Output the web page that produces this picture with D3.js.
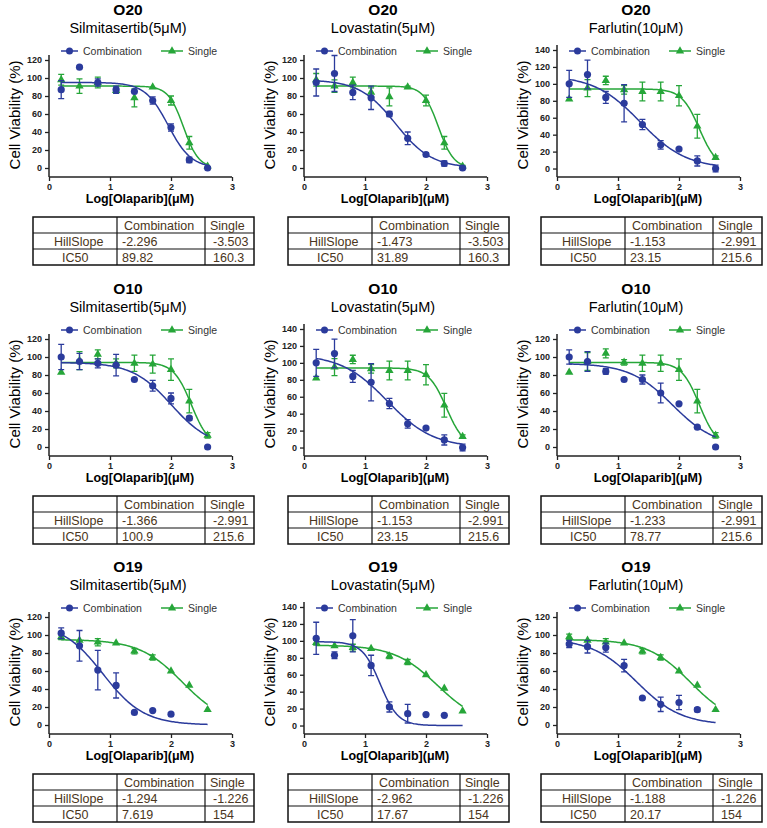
<!DOCTYPE html>
<html><head><meta charset="utf-8">
<script src="https://cdn.jsdelivr.net/npm/d3@7"></script>
<style>body{margin:0;background:#fff}text{font-family:"Liberation Sans",Arial,sans-serif}</style>
</head><body><svg id="c" width="767" height="828"></svg>
<script>
const doses=[0.2,0.5,0.8,1.1,1.4,1.7,2.0,2.3,2.6];
const cellLines=["O20","O20","O20","O10","O10","O10","O19","O19","O19"];
const drugs=["Silmitasertib(5μM)","Lovastatin(5μM)","Farlutin(10μM)","Silmitasertib(5μM)","Lovastatin(5μM)","Farlutin(10μM)","Silmitasertib(5μM)","Lovastatin(5μM)","Farlutin(10μM)"];
const yMaxTick=[120,120,140,120,140,120,120,140,120];
const combVals=[[87,112,95,87,85,75,45,9,0],[95,105,84,78,60,33,15,5,0],[100,111,84,77,52,28,23,9,0],[100,95,93,91,75,68,54,32,0],[100,111,84,77,52,28,23,9,0],[100,95,84,75,75,60,48,22,0],[102,88,61,44,14,16,12],[103,83,106,71,22,14,13,12],[90,87,86,66,30,23,25,17]];
const combErr=[[10,0,4,4,0,4,4,3,0],[15,20,8,13,3,7,2,3,1],[16,17,7,22,6,5,1,6,4],[14,9,5,12,0,6,6,2,0],[16,17,7,22,6,5,1,6,4],[8,11,3,0,5,11,0,0,0],[6,17,22,14,0,0,0],[19,4,19,12,6,11,0,0],[4,7,5,7,0,8,8,2]];
const singleVals=[[98,91,95,86,78,90,75,28,2],[98,91,95,84,79,90,75,28,2],[82,95,104,93,91,91,86,50,13],[83,96,103,93,93,92,86,51,13],[82,95,104,93,91,91,86,50,13],[83,95,104,94,93,93,86,51,13],[98,94,92,91,82,75,60,44,17],[98,94,92,91,82,75,60,44,17],[98,94,92,91,82,75,60,44,17]];
const singleErr=[[6,8,6,3,10,0,5,7,0],[7,7,6,5,10,1,6,7,1],[0,10,5,5,11,11,12,14,2],[0,10,5,5,9,10,12,13,3],[0,10,5,5,11,11,12,14,2],[0,10,5,3,9,9,12,13,3],[3,0,4,0,3,3,0,0,0],[3,0,4,0,3,3,0,0,0],[3,0,4,0,3,3,0,0,0]];
const combHill=["-2.296","-1.473","-1.153","-1.366","-1.153","-1.233","-1.294","-2.962","-1.188"];
const combIC50=["89.82","31.89","23.15","100.9","23.15","78.77","7.619","17.67","20.17"];
const singleHill=["-3.503","-3.503","-2.991","-2.991","-2.991","-2.991","-1.226","-1.226","-1.226"];
const singleIC50=["160.3","160.3","215.6","215.6","215.6","215.6","154","154","154"];
const combTop=[95,98,110,94,110,93,114,99,96];
const singleTop=[91,91,94,94,94,94,95,95,95];
const xTicks=[0,1,2,3];

const blue="#2b3b9c", green="#26a639", txt="#4a3520";
const svg=d3.select("#c");
const colX=[0,255,508], rowY=[0,279,557];

function curve(top,hill,ic50){const l=Math.log10(+ic50),h=Math.abs(+hill);
  return d3.range(0.2,2.6001,0.02).map(x=>[x,top/(1+Math.pow(10,(x-l)*h))]);}

function tri(g,x,y,c){g.append("path").attr("d",d3.symbol(d3.symbolTriangle,30)()).attr("transform",`translate(${x},${y})`).attr("fill",c);}

for(let i=0;i<9;i++){
  const g=svg.append("g").attr("transform",`translate(${colX[i%3]},${rowY[Math.floor(i/3)]})`);
  const top=yMaxTick[i];
  const x=d3.scaleLinear().domain([0,3]).range([49,232]);
  const y=d3.scaleLinear().domain([-10,top]).range([177,top===140?50:60]);
  g.append("text").attr("x",128).attr("y",15).attr("text-anchor","middle").attr("font-size",15.5).attr("font-weight","bold").text(cellLines[i]);
  g.append("text").attr("x",128).attr("y",33).attr("text-anchor","middle").attr("font-size",14.5).text(drugs[i]);
  const ya=g.append("g").attr("transform","translate(49,0)").call(d3.axisLeft(y).tickValues(d3.range(0,top+1,20)).tickSize(4).tickPadding(3));
  ya.select(".domain").attr("d",`M0,${y(-10)}V${y(top)-5}`).attr("stroke","#222").attr("stroke-width",1.5);
  const xa=g.append("g").attr("transform",`translate(0,${y(-10)})`).call(d3.axisBottom(x).tickValues(xTicks).tickFormat(d3.format("d")).tickSize(4).tickPadding(3));
  xa.select(".domain").attr("d",`M49,0H232`).attr("stroke","#222").attr("stroke-width",1.5);
  g.selectAll(".tick text").attr("font-size",9).attr("font-weight","bold").attr("fill","#222");
  g.selectAll(".tick line").attr("stroke","#222").attr("stroke-width",1.3);
  g.append("text").attr("transform","translate(20,115) rotate(-90)").attr("text-anchor","middle").attr("font-size",15).text("Cell Viability (%)");
  g.append("text").attr("x",140).attr("y",203).attr("text-anchor","middle").attr("font-size",12.5).attr("font-weight","bold").text("Log[Olaparib](μM)");
  g.append("line").attr("x1",61).attr("x2",78).attr("y1",51).attr("y2",51).attr("stroke",blue).attr("stroke-width",1.5);
  g.append("circle").attr("cx",69.5).attr("cy",51).attr("r",3.5).attr("fill",blue);
  g.append("text").attr("x",83).attr("y",55).attr("font-size",10.5).attr("fill","#333").text("Combination");
  g.append("line").attr("x1",161).attr("x2",183).attr("y1",51).attr("y2",51).attr("stroke",green).attr("stroke-width",1.5);
  tri(g,172,51,green);
  g.append("text").attr("x",188).attr("y",55).attr("font-size",10.5).attr("fill","#333").text("Single");
  const line=d3.line().x(d=>x(d[0])).y(d=>y(d[1]));
  const series=[[singleVals[i],singleErr[i],green,curve(singleTop[i],singleHill[i],singleIC50[i]),false],[combVals[i],combErr[i],blue,curve(combTop[i],combHill[i],combIC50[i]),true]];
  series.forEach(([v,e,c,cv,isC])=>{
    g.append("path").attr("d",line(cv)).attr("fill","none").attr("stroke",c).attr("stroke-width",1.5);
    v.forEach((val,k)=>{const px=x(doses[k]),py=y(val);
      if(e[k]>0){const a=y(val+e[k]),b=y(val-e[k]);
        g.append("path").attr("d",`M${px},${a}V${b}M${px-3},${a}H${px+3}M${px-3},${b}H${px+3}`).attr("stroke",c).attr("stroke-width",1.3).attr("fill","none");}
      if(isC) g.append("circle").attr("cx",px).attr("cy",py).attr("r",3.6).attr("fill",c);
      else tri(g,px,py,c);
    });
  });
  const tx=33,tw=[84,88,49],ty=217,rh=16;
  const tg=g.append("g");
  tg.append("rect").attr("x",tx).attr("y",ty).attr("width",d3.sum(tw)).attr("height",rh*3).attr("fill","none").attr("stroke","#111").attr("stroke-width",1.5);
  [1,2].forEach(r=>tg.append("line").attr("x1",tx).attr("x2",tx+d3.sum(tw)).attr("y1",ty+rh*r).attr("y2",ty+rh*r).attr("stroke","#111").attr("stroke-width",1.2));
  [tw[0],tw[0]+tw[1]].forEach(c=>tg.append("line").attr("x1",tx+c).attr("x2",tx+c).attr("y1",ty).attr("y2",ty+rh*3).attr("stroke","#111").attr("stroke-width",1.2));
  const rows=[["","Combination","Single"],["HillSlope",combHill[i],singleHill[i]],["IC50",combIC50[i],singleIC50[i]]];
  rows.forEach((r,ri)=>{
    const yy=ty+rh*ri+12.5;
    tg.append("text").attr("x",tx+(ri===1?21:29)).attr("y",yy).attr("font-size",12.5).attr("fill",txt).text(r[0]);
    tg.append("text").attr("x",tx+tw[0]+(ri===0?7:5)).attr("y",yy).attr("font-size",12.5).attr("fill",txt).text(r[1]);
    tg.append("text").attr("x",tx+tw[0]+tw[1]+(ri===0?5:8)).attr("y",yy).attr("font-size",12.5).attr("fill",txt).text(r[2]);
  });
}
</script></body></html>
